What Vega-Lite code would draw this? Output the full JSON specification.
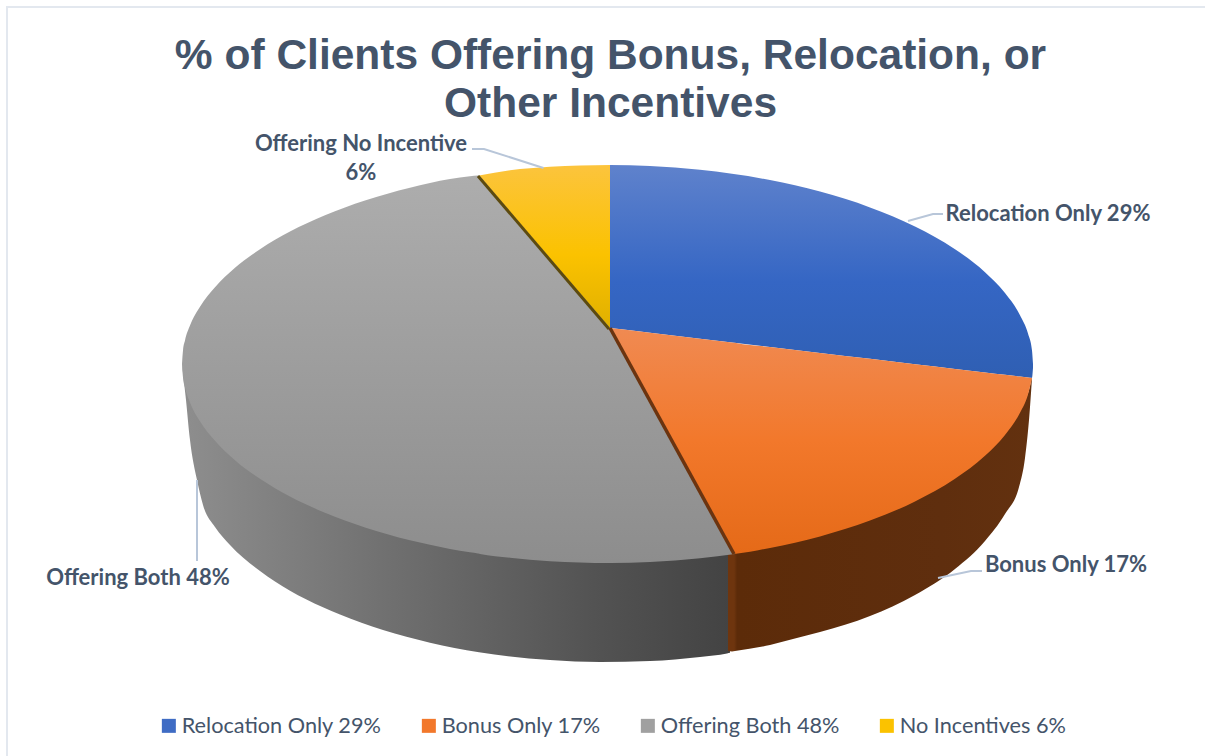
{
"$schema":"https://vega.github.io/schema/vega-lite/v6.json",
"width":1205,"height":756,"padding":0,"autosize":{"type":"none"},
"background":"white",
"title":{"text":["% of Clients Offering Bonus, Relocation, or","Other Incentives"],"font":"Liberation Sans","fontSize":42.5,"fontWeight":"bold","color":"#44546a","lineHeight":48,"anchor":"middle","dx":8,"offset":-125},
"config":{"view":{"stroke":null},"axis":{"domain":false,"grid":false,"ticks":false,"labels":false,"title":null}},
"datasets":{
"frame":[{"x":7,"y":756},{"x":7,"y":7},{"x":1205,"y":7}],
"shares":[{"slice":"Relocation Only 29%","share":29,"x":600,"y":400},{"slice":"Bonus Only 17%","share":17,"x":600,"y":400},{"slice":"Offering Both 48%","share":48,"x":600,"y":400},{"slice":"No Incentives 6%","share":6,"x":600,"y":400}],
"grayWall":[{"x":182,"y":362,"y2":364},{"x":186,"y":388,"y2":400},{"x":190,"y":400,"y2":440},{"x":197,"y":413.5,"y2":480},{"x":203,"y":424,"y2":505},{"x":215,"y":438.8,"y2":527},{"x":230,"y":454,"y2":545},{"x":260,"y":476.8,"y2":571},{"x":290,"y":494.5,"y2":590.7},{"x":306,"y":501.5,"y2":599.3},{"x":340,"y":516.5,"y2":614.6},{"x":383,"y":531,"y2":630},{"x":430,"y":543,"y2":642.7},{"x":479,"y":551.7,"y2":652.2},{"x":550,"y":559.2,"y2":660},{"x":600,"y":561,"y2":662},{"x":650,"y":560,"y2":661},{"x":700,"y":556.2,"y2":656.9},{"x":727,"y":553,"y2":653.4},{"x":730,"y":552,"y2":652.8}],
"brownWall":[{"x":728,"y":552,"y2":651},{"x":732,"y":552,"y2":651.5},{"x":735,"y":552,"y2":651},{"x":770,"y":545.9,"y2":645},{"x":793,"y":539,"y2":639},{"x":820,"y":534.4,"y2":632},{"x":870,"y":518.6,"y2":616},{"x":915,"y":499.5,"y2":595},{"x":955,"y":476.8,"y2":569},{"x":985,"y":453.8,"y2":541},{"x":1005,"y":433,"y2":514},{"x":1019,"y":412,"y2":487},{"x":1025,"y":400,"y2":458},{"x":1029,"y":390,"y2":420},{"x":1032,"y":376,"y2":378}],
"tops":[
{"slice":"Relocation Only 29%","x":610,"y":165,"y2":328},{"slice":"Relocation Only 29%","x":650,"y":166,"y2":332.7},{"slice":"Relocation Only 29%","x":700,"y":169.8,"y2":338.7},{"slice":"Relocation Only 29%","x":770,"y":180.1,"y2":347},{"slice":"Relocation Only 29%","x":820,"y":191.6,"y2":352.9},{"slice":"Relocation Only 29%","x":870,"y":207.4,"y2":358.8},{"slice":"Relocation Only 29%","x":915,"y":226.5,"y2":364.2},{"slice":"Relocation Only 29%","x":955,"y":249.2,"y2":368.9},{"slice":"Relocation Only 29%","x":985,"y":272.2,"y2":372.4},{"slice":"Relocation Only 29%","x":1005,"y":293,"y2":374.8},{"slice":"Relocation Only 29%","x":1020,"y":315.2,"y2":376.6},{"slice":"Relocation Only 29%","x":1028,"y":333.6,"y2":377.5},{"slice":"Relocation Only 29%","x":1032,"y":350.4,"y2":377.8},{"slice":"Relocation Only 29%","x":1033,"y":364,"y2":368},
{"slice":"Bonus Only 17%","x":610,"y":328,"y2":328},{"slice":"Bonus Only 17%","x":650,"y":332.7,"y2":400.3},{"slice":"Bonus Only 17%","x":700,"y":338.7,"y2":490.7},{"slice":"Bonus Only 17%","x":734,"y":342.7,"y2":552.2},{"slice":"Bonus Only 17%","x":735,"y":342.8,"y2":553.9},{"slice":"Bonus Only 17%","x":736,"y":343,"y2":553.8},{"slice":"Bonus Only 17%","x":770,"y":347,"y2":547.9},{"slice":"Bonus Only 17%","x":820,"y":352.9,"y2":536.4},{"slice":"Bonus Only 17%","x":870,"y":358.8,"y2":520.6},{"slice":"Bonus Only 17%","x":915,"y":364.2,"y2":501.5},{"slice":"Bonus Only 17%","x":955,"y":368.9,"y2":478.8},{"slice":"Bonus Only 17%","x":985,"y":372.4,"y2":455.8},{"slice":"Bonus Only 17%","x":1005,"y":374.8,"y2":435},{"slice":"Bonus Only 17%","x":1020,"y":376.6,"y2":412.8},{"slice":"Bonus Only 17%","x":1028,"y":377.5,"y2":394.4},{"slice":"Bonus Only 17%","x":1032,"y":378,"y2":378},
{"slice":"Offering Both 48%","x":182,"y":364,"y2":364},{"slice":"Offering Both 48%","x":183,"y":350.4,"y2":377.6},{"slice":"Offering Both 48%","x":185,"y":340.4,"y2":387.6},{"slice":"Offering Both 48%","x":190,"y":325.6,"y2":402.4},{"slice":"Offering Both 48%","x":200,"y":306.7,"y2":421.3},{"slice":"Offering Both 48%","x":215,"y":287.2,"y2":440.8},{"slice":"Offering Both 48%","x":235,"y":267.8,"y2":460.2},{"slice":"Offering Both 48%","x":260,"y":249.2,"y2":478.8},{"slice":"Offering Both 48%","x":290,"y":231.5,"y2":496.5},{"slice":"Offering Both 48%","x":325,"y":215.2,"y2":512.8},{"slice":"Offering Both 48%","x":365,"y":200.5,"y2":527.5},{"slice":"Offering Both 48%","x":410,"y":187.7,"y2":540.3},{"slice":"Offering Both 48%","x":450,"y":179.1,"y2":548.9},{"slice":"Offering Both 48%","x":470,"y":176.2,"y2":552.3},{"slice":"Offering Both 48%","x":478,"y":175.4,"y2":553.5},{"slice":"Offering Both 48%","x":479,"y":175.5,"y2":553.7},{"slice":"Offering Both 48%","x":480,"y":176.7,"y2":553.9},{"slice":"Offering Both 48%","x":510,"y":212,"y2":557.7},{"slice":"Offering Both 48%","x":550,"y":258.4,"y2":561.2},{"slice":"Offering Both 48%","x":610,"y":328,"y2":563},{"slice":"Offering Both 48%","x":650,"y":400.3,"y2":562},{"slice":"Offering Both 48%","x":700,"y":490.7,"y2":558.2},{"slice":"Offering Both 48%","x":735,"y":553.9,"y2":553.9},
{"slice":"No Incentives 6%","x":479,"y":175.5,"y2":175.5},{"slice":"No Incentives 6%","x":510,"y":170.3,"y2":212},{"slice":"No Incentives 6%","x":550,"y":166.8,"y2":258.4},{"slice":"No Incentives 6%","x":610,"y":165,"y2":328}
],
"edges":[
{"edge":"yellow","x":478,"y":176},{"edge":"yellow","x":609,"y":329},
{"edge":"orange","x":610,"y":328},{"edge":"orange","x":734,"y":554}
],
"leaders":[
{"label":"none","x":472,"y":149},{"label":"none","x":484,"y":149},{"label":"none","x":543.5,"y":168},
{"label":"relocation","x":908,"y":221},{"label":"relocation","x":933,"y":214},{"label":"relocation","x":943,"y":214},
{"label":"bonus","x":938,"y":578},{"label":"bonus","x":971,"y":571},{"label":"bonus","x":982,"y":571},
{"label":"both","x":197,"y":480},{"label":"both","x":197,"y":561}
],
"labels":[
{"text":"Offering No Incentive","x":361,"y":144},
{"text":"6%","x":361,"y":173},
{"text":"Relocation Only 29%","x":1048,"y":214},
{"text":"Bonus Only 17%","x":1066,"y":564.5},
{"text":"Offering Both 48%","x":138,"y":578}
]
},
"encoding":{
"x":{"field":"x","type":"quantitative","scale":{"domain":[0,1205],"nice":false,"zero":false},"axis":null},
"y":{"field":"y","type":"quantitative","scale":{"domain":[0,756],"reverse":true,"nice":false,"zero":false},"axis":null}
},
"layer":[
{"data":{"name":"frame"},"mark":{"type":"line","stroke":"#e3e8ef","strokeWidth":2,"clip":false}},
{"data":{"name":"shares"},"mark":{"type":"point","shape":"square","filled":true,"size":4,"opacity":1},"encoding":{
"color":{"field":"slice","type":"nominal","scale":{"domain":["Relocation Only 29%","Bonus Only 17%","Offering Both 48%","No Incentives 6%"],"range":["#3f6cc4","#f2782b","#a0a0a0","#fbc200"]},
"legend":{"title":null,"orient":"none","legendX":158,"legendY":715,"direction":"horizontal","columns":4,"gridAlign":"none","columnPadding":36,"symbolType":"square","symbolSize":196,"symbolStrokeWidth":0,"symbolOffset":0,"labelFont":"Lato","labelFontSize":21.7,"labelColor":"#44546a","labelLimit":400,"labelOffset":2}}}},
{"data":{"name":"grayWall"},"mark":{"type":"area","interpolate":"monotone","color":{"gradient":"linear","x1":0,"y1":0,"x2":1,"y2":0,"stops":[{"offset":0,"color":"#8e8e8e"},{"offset":0.4,"color":"#6e6e6e"},{"offset":0.75,"color":"#535353"},{"offset":1,"color":"#434343"}]}},"encoding":{"y2":{"field":"y2"}}},
{"data":{"name":"brownWall"},"mark":{"type":"area","interpolate":"monotone","color":{"gradient":"linear","x1":0,"y1":0,"x2":1,"y2":0,"stops":[{"offset":0,"color":"#6e350e"},{"offset":0.02,"color":"#6e350e"},{"offset":0.03,"color":"#5c2b09"},{"offset":0.7,"color":"#5f2e0e"},{"offset":1,"color":"#63310f"}]}},"encoding":{"y2":{"field":"y2"}}},
{"data":{"name":"tops"},"transform":[{"filter":"datum.slice=='Offering Both 48%'"}],"mark":{"type":"area","interpolate":"monotone","color":{"gradient":"linear","x1":0,"y1":0,"x2":0,"y2":1,"stops":[{"offset":0,"color":"#adadad"},{"offset":1,"color":"#8d8d8d"}]}},"encoding":{"y2":{"field":"y2"}}},
{"data":{"name":"tops"},"transform":[{"filter":"datum.slice=='Relocation Only 29%'"}],"mark":{"type":"area","interpolate":"monotone","color":{"gradient":"linear","x1":0,"y1":0,"x2":0,"y2":1,"stops":[{"offset":0,"color":"#5f82cc"},{"offset":0.55,"color":"#3566c4"},{"offset":1,"color":"#2f5fb3"}]}},"encoding":{"y2":{"field":"y2"}}},
{"data":{"name":"tops"},"transform":[{"filter":"datum.slice=='Bonus Only 17%'"}],"mark":{"type":"area","interpolate":"monotone","color":{"gradient":"linear","x1":0,"y1":0,"x2":0,"y2":1,"stops":[{"offset":0,"color":"#f08a52"},{"offset":0.5,"color":"#f2782b"},{"offset":1,"color":"#e56a18"}]}},"encoding":{"y2":{"field":"y2"}}},
{"data":{"name":"tops"},"transform":[{"filter":"datum.slice=='No Incentives 6%'"}],"mark":{"type":"area","interpolate":"monotone","color":{"gradient":"linear","x1":0,"y1":0,"x2":0,"y2":1,"stops":[{"offset":0,"color":"#fcc43d"},{"offset":0.55,"color":"#fbc200"},{"offset":1,"color":"#e0b000"}]}},"encoding":{"y2":{"field":"y2"}}},
{"data":{"name":"edges"},"transform":[{"filter":"datum.edge=='yellow'"}],"mark":{"type":"line","stroke":"#5c4a10","strokeWidth":3}},
{"data":{"name":"edges"},"transform":[{"filter":"datum.edge=='orange'"}],"mark":{"type":"line","stroke":"#6b3410","strokeWidth":3.5}},
{"data":{"name":"leaders"},"mark":{"type":"line","stroke":"#b8c6d9","strokeWidth":2},"encoding":{"detail":{"field":"label"}}},
{"data":{"name":"labels"},"mark":{"type":"text","font":"Lato","fontWeight":"bold","fontSize":22,"color":"#44546a","align":"center","baseline":"middle"},"encoding":{"text":{"field":"text"}}}
]
}
